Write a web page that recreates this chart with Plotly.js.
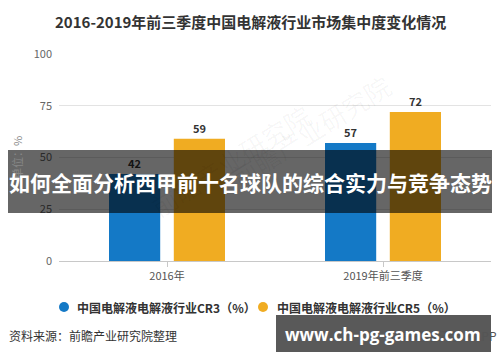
<!DOCTYPE html>
<html>
<head>
<meta charset="utf-8">
<script src="https://cdn.plot.ly/plotly-3.0.1.min.js"></script>
<style>
html,body{margin:0;padding:0;background:#fff;}
#chart{width:500px;height:362px;}
</style>
</head>
<body>
<div id="chart"></div>
<script>
const categories = ["2016年", "2019年前三季度"];
const seriesNames = ["中国电解液电解液行业CR3（%）", "中国电解液电解液行业CR5（%）"];
const cr3Values = [42, 57];
const cr5Values = [59, 72];
const yTicks = [0, 25, 50, 75, 100];
const chartTitle = "2016-2019年前三季度中国电解液行业市场集中度变化情况";
const yTitle = "单位：%";
const sourceText = "资料来源：前瞻产业研究院整理";
const bannerText = "如何全面分析西甲前十名球队的综合实力与竞争态势";
const siteText = "www.ch-pg-games.com";
const appText = "前瞻经济学人APP";
const watermarkText = "前瞻产业研究院";

const colors = ["#1479C6", "#F0AC22"];
const FONT = '"Noto Sans CJK SC", "Noto Sans", sans-serif';

const traces = [cr3Values, cr5Values].map((vals, i) => ({
  type: "bar",
  x: categories,
  y: vals,
  name: seriesNames[i],
  marker: {color: colors[i]},
  text: vals.map(String),
  textposition: "outside",
  cliponaxis: false,
  textfont: {family: FONT, size: 11, color: "#333", weight: 700},
  hoverinfo: "skip"
}));

const px = v => (v - 59) / 432;
const py = v => (261 - v) / 207;

const annotations = [
  {xref: "paper", yref: "paper", x: px(250), y: py(22), xanchor: "center", yanchor: "middle",
   text: "<b>" + chartTitle + "</b>", showarrow: false,
   font: {family: FONT, size: 15, color: "#333"}},
  // watermarks
  {xref: "paper", yref: "paper", x: px(140), y: py(160), text: watermarkText, showarrow: false,
   textangle: -32, font: {family: FONT, size: 26, color: "rgba(0,0,0,0.04)"}},
  {xref: "paper", yref: "paper", x: px(400), y: py(130), text: watermarkText, showarrow: false,
   textangle: -32, font: {family: FONT, size: 26, color: "rgba(0,0,0,0.04)"}},
  // source
  {xref: "paper", yref: "paper", x: px(7), y: py(335), xanchor: "left", yanchor: "middle",
   text: sourceText, showarrow: false,
   font: {family: FONT, size: 12, color: "#333"}},
  {xref: "paper", yref: "paper", x: px(499), y: py(335), xanchor: "right", yanchor: "middle",
   text: appText, showarrow: false,
   font: {family: FONT, size: 12, color: "#555"}}
];

// legend entries as annotations
const legendX = [75, 275];
seriesNames.forEach((n, i) => {
  annotations.push({xref: "paper", yref: "paper",
    x: px(legendX[i]), y: py(307), xanchor: "left", yanchor: "middle",
    text: "<b>" + n + "</b>", showarrow: false,
    font: {family: FONT, size: 12, color: "#333"}});
});

// banner and site overlays
annotations.push({xref: "paper", yref: "paper", x: px(250), y: py(182),
  xanchor: "center", yanchor: "middle", text: "<b>" + bannerText + "</b>", showarrow: false,
  font: {family: FONT, size: 21, color: "#fff"}});
annotations.push({xref: "paper", yref: "paper", x: px(383), y: py(334),
  xanchor: "center", yanchor: "middle", text: "<b>" + siteText + "</b>", showarrow: false,
  font: {family: '"Open Sans", "Noto Sans", sans-serif', size: 17, color: "#fff"}});

const shapes = [
  {type: "circle", xref: "paper", yref: "paper", x0: px(59), x1: px(69), y0: py(312), y1: py(302),
   fillcolor: colors[0], line: {width: 0}},
  {type: "circle", xref: "paper", yref: "paper", x0: px(258), x1: px(268), y0: py(312), y1: py(302),
   fillcolor: colors[1], line: {width: 0}},
  {type: "rect", xref: "paper", yref: "paper", x0: px(8), x1: px(492), y0: py(213), y1: py(150),
   fillcolor: "rgba(0,0,0,0.6)", line: {width: 0}, layer: "above"},
  {type: "rect", xref: "paper", yref: "paper", x0: px(276), x1: px(491), y0: py(352), y1: py(315),
   fillcolor: "rgba(60,60,60,0.85)", line: {width: 0}, layer: "above"}
];

const layout = {
  width: 500, height: 362,
  margin: {l: 59, r: 9, t: 54, b: 101},
  paper_bgcolor: "#fff", plot_bgcolor: "#fff",
  showlegend: false,
  barmode: "group",
  bargap: 0.4,
  bargroupgap: 0.21,
  font: {family: FONT, size: 11, color: "#555"},
  xaxis: {
    type: "category",
    tickvals: categories,
    ticktext: categories,
    showline: true, linecolor: "#c8c8c8", linewidth: 1,
    ticks: "outside", ticklen: 5, tickcolor: "#c8c8c8",
    tickfont: {family: FONT, size: 11, color: "#555"},
    fixedrange: true
  },
  yaxis: {
    range: [0, 100],
    tickvals: yTicks,
    showgrid: true, gridcolor: "#e3e3e3", gridwidth: 1,
    zeroline: false, showline: false,
    tickfont: {family: FONT, size: 11, color: "#666"},
    ticklabelstandoff: 6,
    title: {text: yTitle, font: {family: FONT, size: 11, color: "#888"}, standoff: 8},
    fixedrange: true
  },
  annotations: annotations,
  shapes: shapes
};

Plotly.newPlot("chart", traces, layout, {displayModeBar: false, staticPlot: true});
</script>
</body>
</html>
